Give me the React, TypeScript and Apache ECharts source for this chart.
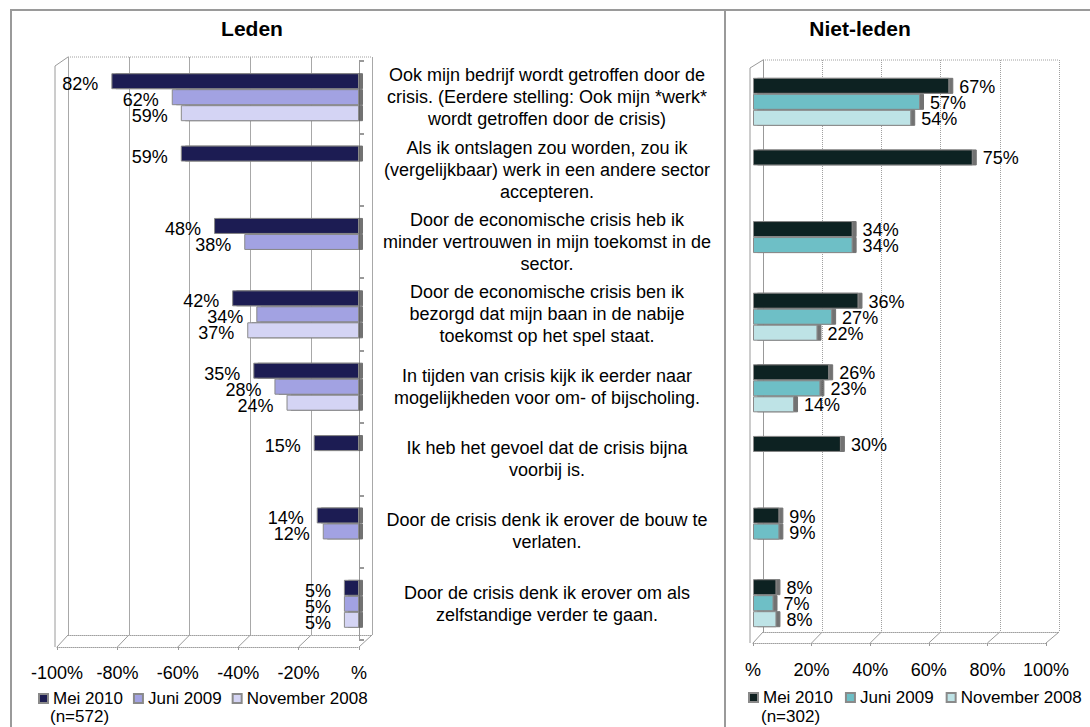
import React, { useEffect, useRef } from 'react';
import * as echarts from 'echarts';

const categories = [
  'Ook mijn bedrijf wordt getroffen door de\ncrisis. (Eerdere stelling: Ook mijn *werk*\nwordt getroffen door de crisis)',
  'Als ik ontslagen zou worden, zou ik\n(vergelijkbaar) werk in een andere sector\naccepteren.',
  'Door de economische crisis heb ik\nminder vertrouwen in mijn toekomst in de\nsector.',
  'Door de economische crisis ben ik\nbezorgd dat mijn baan in de nabije\ntoekomst op het spel staat.',
  'In tijden van crisis kijk ik eerder naar\nmogelijkheden voor om- of bijscholing.',
  'Ik heb het gevoel dat de crisis bijna\nvoorbij is.',
  'Door de crisis denk ik erover de bouw te\nverlaten.',
  'Door de crisis denk ik erover om als\nzelfstandige verder te gaan.',
];

const seriesNames = ['Mei 2010', 'Juni 2009', 'November 2008'];

const ledenMei2010 = [82, 59, 48, 42, 35, 15, 14, 5];
const ledenJuni2009 = [62, null, 38, 34, 28, null, 12, 5];
const ledenNov2008 = [59, null, null, 37, 24, null, null, 5];

const nietMei2010 = [67, 75, 34, 36, 26, 30, 9, 8];
const nietJuni2009 = [57, null, 34, 27, 23, null, 9, 7];
const nietNov2008 = [54, null, null, 22, 14, null, null, 8];

const ledenN = '(n=572)';
const nietN = '(n=302)';
const panelTitles = ['Leden', 'Niet-leden'];

const ledenColors = ['#1e1e52', '#a2a2e2', '#d4d4f4'];
const nietColors = ['#0f2020', '#6ebfc6', '#bee3e6'];

const FONT = 'Arial, "Liberation Sans", sans-serif';

// geometry (styling only)
const LB = { left: 68, top: 57, width: 304, height: 578 }; // left back plane
const LF = { left: 57, top: 61, width: 302, height: 579 }; // left front (bars)
const RB = { left: 763, top: 60, width: 296, height: 572 };
const RF = { left: 753, top: 66, width: 293, height: 573 };

const pct = (v: number) => (v === 0 ? '%' : v + '%');

function barSeries(
  key: string,
  name: string,
  values: (number | null)[],
  color: string,
  axisIndex: number,
  negative: boolean
) {
  return {
    type: 'bar',
    name: key + '|' + name,
    xAxisIndex: axisIndex,
    yAxisIndex: axisIndex,
    data: values.map((v) => (v == null ? null : negative ? -v : v)),
    barWidth: 16,
    barGap: '0%',
    itemStyle: {
      color,
      borderColor: '#8a8a8a',
      borderWidth: 1,
      shadowColor: 'rgba(90,90,90,0.85)',
      shadowOffsetX: 4,
      shadowOffsetY: 0,
      shadowBlur: 0,
    },
    label: {
      show: true,
      position: negative ? 'left' : 'right',
      distance: negative ? 13 : 10,
      offset: negative ? [0, 3] : [0, 1],
      fontSize: 18,
      fontFamily: FONT,
      color: '#000',
      formatter: (p: any) => (p.value == null ? '' : Math.abs(p.value) + '%'),
    },
  };
}

export default function App() {
  const ref = useRef<HTMLDivElement>(null);

  useEffect(() => {
    document.body.style.margin = '0';
    if (!ref.current) return;
    const chart = echarts.init(ref.current, undefined, { renderer: 'svg' });

    const frame = { stroke: '#9a9a9a', lineWidth: 2 };
    const thin = { stroke: '#9a9a9a', lineWidth: 1 };
    const dotted = { stroke: '#a0a0a0', lineWidth: 1, lineDash: [1, 1] };

    const floorLines: any[] = [];
    for (let k = 0; k <= 5; k++) {
      floorLines.push({
        type: 'line',
        shape: {
          x1: LF.left + (LF.width * k) / 5,
          y1: LF.top + LF.height + 7,
          x2: LB.left + (LB.width * k) / 5,
          y2: LB.top + LB.height,
        },
        style: thin,
      });
      floorLines.push({
        type: 'line',
        shape: {
          x1: RF.left + (RF.width * k) / 5,
          y1: RF.top + RF.height + 4,
          x2: RB.left + (RB.width * k) / 5,
          y2: RB.top + RB.height,
        },
        style: thin,
      });
    }

    const option: any = {
      animation: false,
      textStyle: { fontFamily: FONT },
      grid: [
        { ...LB, containLabel: false },
        { ...LF, containLabel: false },
        { ...RB, containLabel: false },
        { ...RF, containLabel: false },
      ],
      xAxis: [
        {
          gridIndex: 0, type: 'value', min: -100, max: 0, interval: 20,
          axisLabel: { show: false }, axisTick: { show: false },
          axisLine: { show: true, lineStyle: { color: '#a0a0a0', type: 'dotted' } },
          splitLine: { show: true, lineStyle: { color: '#a8a8a8', width: 1 } },
        },
        {
          gridIndex: 1, type: 'value', min: -100, max: 0, interval: 20, offset: 7,
          axisLine: { show: true, lineStyle: { color: '#a0a0a0', type: 'dotted' } },
          axisTick: { show: true, length: 3, lineStyle: { color: '#999' } },
          splitLine: { show: false },
          axisLabel: { margin: 17, fontSize: 18, color: '#000', formatter: pct },
        },
        {
          gridIndex: 2, type: 'value', min: 0, max: 100, interval: 20,
          axisLabel: { show: false }, axisTick: { show: false },
          axisLine: { show: true, lineStyle: { color: '#a0a0a0', type: 'dotted' } },
          splitLine: { show: true, lineStyle: { color: '#a0a0a0', type: 'dotted' } },
        },
        {
          gridIndex: 3, type: 'value', min: 0, max: 100, interval: 20, offset: 4,
          axisLine: { show: true, lineStyle: { color: '#a0a0a0', type: 'dotted' } },
          axisTick: { show: true, length: 3, lineStyle: { color: '#999' } },
          splitLine: { show: false },
          axisLabel: { margin: 18, fontSize: 18, color: '#000', formatter: pct },
        },
      ],
      yAxis: [
        { gridIndex: 0, type: 'category', data: categories, inverse: true, show: false },
        {
          gridIndex: 1, type: 'category', data: categories, inverse: true, position: 'right',
          axisLine: { show: true, lineStyle: { color: '#999' } },
          axisTick: { show: true, length: 5, lineStyle: { color: '#999', width: 2 } },
          axisLabel: {
            interval: 0, margin: 188, align: 'center', fontSize: 18,
            lineHeight: 22, color: '#000',
          },
        },
        {
          gridIndex: 2, type: 'category', data: categories, inverse: true,
          axisLine: { show: true, lineStyle: { color: '#999' } },
          axisTick: { show: false }, axisLabel: { show: false },
        },
        { gridIndex: 3, type: 'category', data: categories, inverse: true, show: false },
      ],
      legend: [
        {
          left: 38, top: 690, width: 340, padding: 0,
          itemWidth: 9, itemHeight: 9, itemGap: 10,
          icon: 'rect', selectedMode: false,
          textStyle: { fontSize: 17, color: '#000' },
          formatter: (n: string) => n.split('|')[1],
          data: seriesNames.map((s) => 'L|' + s),
        },
        {
          left: 748, top: 689, width: 340, padding: 0,
          itemWidth: 9, itemHeight: 9, itemGap: 12,
          icon: 'rect', selectedMode: false,
          textStyle: { fontSize: 17, color: '#000' },
          formatter: (n: string) => n.split('|')[1],
          data: seriesNames.map((s) => 'R|' + s),
        },
      ],
      series: [
        barSeries('L', seriesNames[0], ledenMei2010, ledenColors[0], 1, true),
        barSeries('L', seriesNames[1], ledenJuni2009, ledenColors[1], 1, true),
        barSeries('L', seriesNames[2], ledenNov2008, ledenColors[2], 1, true),
        barSeries('R', seriesNames[0], nietMei2010, nietColors[0], 3, false),
        barSeries('R', seriesNames[1], nietJuni2009, nietColors[1], 3, false),
        barSeries('R', seriesNames[2], nietNov2008, nietColors[2], 3, false),
      ],
      graphic: [
        { type: 'line', shape: { x1: 11, y1: 10, x2: 1090, y2: 10 }, style: frame },
        { type: 'line', shape: { x1: 11, y1: 9, x2: 11, y2: 727 }, style: frame },
        { type: 'line', shape: { x1: 725, y1: 9, x2: 725, y2: 727 }, style: frame },
        {
          type: 'text', x: 252, y: 28,
          style: { text: panelTitles[0], font: 'bold 21px ' + FONT, fill: '#000', textAlign: 'center', textVerticalAlign: 'middle' },
        },
        {
          type: 'text', x: 860, y: 28,
          style: { text: panelTitles[1], font: 'bold 21px ' + FONT, fill: '#000', textAlign: 'center', textVerticalAlign: 'middle' },
        },
        {
          type: 'line',
          shape: { x1: LB.left, y1: LB.top, x2: LB.left + LB.width, y2: LB.top },
          style: dotted,
        },
        {
          type: 'polyline',
          shape: { points: [[LB.left, LB.top], [LF.left - 2, LB.top + 9], [LF.left - 2, LF.top + LF.height + 7]] },
          style: { ...thin, fill: null },
        },
        {
          type: 'line',
          shape: { x1: RB.left, y1: RB.top, x2: RB.left + RB.width, y2: RB.top },
          style: dotted,
        },
        {
          type: 'polyline',
          shape: { points: [[RB.left, RB.top], [RF.left - 3, RB.top + 8], [RF.left - 3, RF.top + RF.height + 4]] },
          style: { ...thin, fill: null },
        },
        ...floorLines,
        {
          type: 'text', x: 50, y: 716,
          style: { text: ledenN, font: '17px ' + FONT, fill: '#000', textVerticalAlign: 'middle' },
        },
        {
          type: 'text', x: 761, y: 716,
          style: { text: nietN, font: '17px ' + FONT, fill: '#000', textVerticalAlign: 'middle' },
        },
      ],
    };

    chart.setOption(option);
    return () => chart.dispose();
  }, []);

  return <div ref={ref} style={{ width: 1090, height: 727 }} />;
}
